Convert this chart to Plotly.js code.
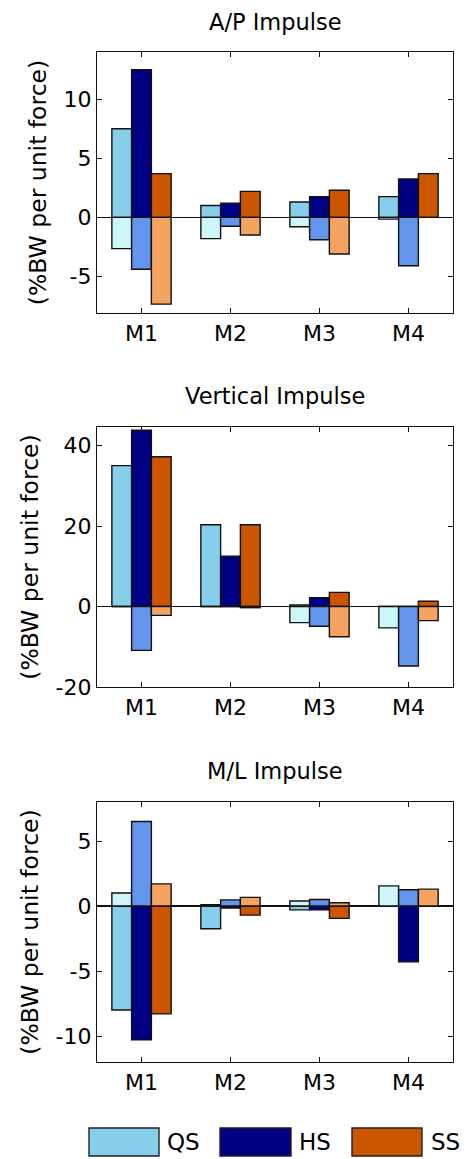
<!DOCTYPE html>
<html>
<head>
<meta charset="utf-8">
<script src="https://cdn.plot.ly/plotly-3.0.1.min.js"></script>
<style>html,body{margin:0;padding:0;background:#fff;}#chart{width:473px;height:1159px;}</style>
</head>
<body>
<div id="chart"></div>
<script>
// ---------- data ----------
const categories = ['M1', 'M2', 'M3', 'M4'];
const seriesNames = ['QS', 'HS', 'SS'];

// A/P impulse (%BW per unit force)
const apQSdark  = [7.5, 1.0, 1.3, 1.75];
const apQSlight = [-2.65, -1.8, -0.8, -0.15];
const apHSdark  = [12.5, 1.2, 1.75, 3.25];
const apHSlight = [-4.4, -0.75, -1.9, -4.1];
const apSSdark  = [3.7, 2.2, 2.3, 3.7];
const apSSlight = [-7.35, -1.5, -3.1, 0];

// Vertical impulse
const vtQSdark  = [35, 20.3, 0.4, 0];
const vtQSlight = [0, 0, -4, -5.3];
const vtHSdark  = [43.8, 12.5, 2.2, 0];
const vtHSlight = [-10.9, 0, -4.9, -14.8];
const vtSSdark  = [37.2, 20.3, 3.5, 1.3];
const vtSSlight = [-2.2, -0.3, -7.5, -3.5];

// M/L impulse
const mlQSdark  = [-8.0, -1.75, -0.3, 0];
const mlQSlight = [1.0, 0.1, 0.38, 1.55];
const mlHSdark  = [-10.3, -0.15, -0.3, -4.3];
const mlHSlight = [6.5, 0.47, 0.5, 1.25];
const mlSSdark  = [-8.3, -0.7, -0.95, 0];
const mlSSlight = [1.7, 0.66, 0.25, 1.3];

const panelTitles = ['A/P Impulse', 'Vertical Impulse', 'M/L Impulse'];
const yTitle = '(%BW per unit force)';

// ---------- style ----------
const darkColors  = {QS: '#87CEEB', HS: '#000085', SS: '#CC5500'};
const lightColors = {QS: '#CCF6F8', HS: '#6495ED', SS: '#F4A460'};
const FONT = 'DejaVu Sans, Liberation Sans, Arial, sans-serif';

const W = 473, H = 1159;
const ML = 97, MR = 20, MT = 52, MB = 97;
const plotW = W - ML - MR, plotH = H - MT - MB;
const py = p => (H - MB - p) / plotH;       // pixel y -> paper y
const px = p => (p - ML) / plotW;           // pixel x -> paper x

const panels = [
  {data: {QS: [apQSdark, apQSlight], HS: [apHSdark, apHSlight], SS: [apSSdark, apSSlight]},
   range: [-8.1, 14], tickvals: [-5, 0, 5, 10], top: 52, bottom: 313, titleY: 22},
  {data: {QS: [vtQSdark, vtQSlight], HS: [vtHSdark, vtHSlight], SS: [vtSSdark, vtSSlight]},
   range: [-20, 44.6], tickvals: [-20, 0, 20, 40], top: 427, bottom: 687, titleY: 396},
  {data: {QS: [mlQSdark, mlQSlight], HS: [mlHSdark, mlHSlight], SS: [mlSSdark, mlSSlight]},
   range: [-12, 8], tickvals: [-10, -5, 0, 5], top: 802, bottom: 1062, titleY: 771}
];

const traces = [];
const layout = {
  width: W, height: H,
  margin: {l: ML, r: MR, t: MT, b: MB, pad: 0},
  paper_bgcolor: '#fff', plot_bgcolor: '#fff',
  font: {family: FONT, size: 22, color: '#000'},
  barmode: 'group', bargap: 0.334, bargroupgap: 0,
  showlegend: false,
  annotations: [], shapes: []
};

panels.forEach((p, i) => {
  const n = i + 1;
  const xa = 'x' + (n === 1 ? '' : n), ya = 'y' + (n === 1 ? '' : n);
  seriesNames.forEach(s => {
    const [dark, light] = p.data[s];
    [[dark, darkColors[s]], [light, lightColors[s]]].forEach(([vals, col]) => {
      traces.push({
        type: 'bar', x: categories, y: vals, name: s,
        offsetgroup: s, xaxis: xa, yaxis: ya,
        marker: {color: col, line: {color: '#111', width: 1.4}},
        hoverinfo: 'x+y+name'
      });
    });
  });
  const axCommon = {
    showline: true, linecolor: '#111', linewidth: 1.2, mirror: 'ticks',
    ticks: 'inside', ticklen: 5, tickcolor: '#111', tickwidth: 1,
    showgrid: false, tickfont: {family: FONT, size: 22, color: '#000'}
  };
  layout['xaxis' + (n === 1 ? '' : n)] = Object.assign({}, axCommon, {
    anchor: ya, domain: [0, 1], type: 'category',
    range: [-0.5, 3.5], zeroline: false, fixedrange: true
  });
  layout['yaxis' + (n === 1 ? '' : n)] = Object.assign({}, axCommon, {
    anchor: xa, domain: [py(p.bottom), py(p.top)], range: p.range,
    tickvals: p.tickvals, ticktext: p.tickvals.map(String),
    zeroline: true, zerolinecolor: '#111', zerolinewidth: 1.2,
    title: {text: yTitle, font: {family: FONT, size: 23.5, color: '#000'}, standoff: 10},
    fixedrange: true
  });
  layout.annotations.push({
    text: panelTitles[i], xref: 'paper', yref: 'paper',
    x: px(275), y: py(p.titleY), xanchor: 'center', yanchor: 'middle',
    showarrow: false, font: {family: FONT, size: 22.5, color: '#000'}
  });
});

// legend (custom, large swatches)
const legendItems = [
  {name: 'QS', x0: 89, x1: 159, tx: 165},
  {name: 'HS', x0: 220, x1: 291, tx: 297},
  {name: 'SS', x0: 352, x1: 422, tx: 429}
];
legendItems.forEach(it => {
  layout.shapes.push({
    type: 'rect', xref: 'paper', yref: 'paper',
    x0: px(it.x0), x1: px(it.x1), y0: py(1156), y1: py(1128),
    fillcolor: darkColors[it.name], line: {color: '#222', width: 1.4}
  });
  layout.annotations.push({
    text: it.name, xref: 'paper', yref: 'paper',
    x: px(it.tx), y: py(1142), xanchor: 'left', yanchor: 'middle',
    showarrow: false, font: {family: FONT, size: 23, color: '#000'}
  });
});

Plotly.newPlot('chart', traces, layout, {displayModeBar: false, staticPlot: true});
</script>
</body>
</html>
